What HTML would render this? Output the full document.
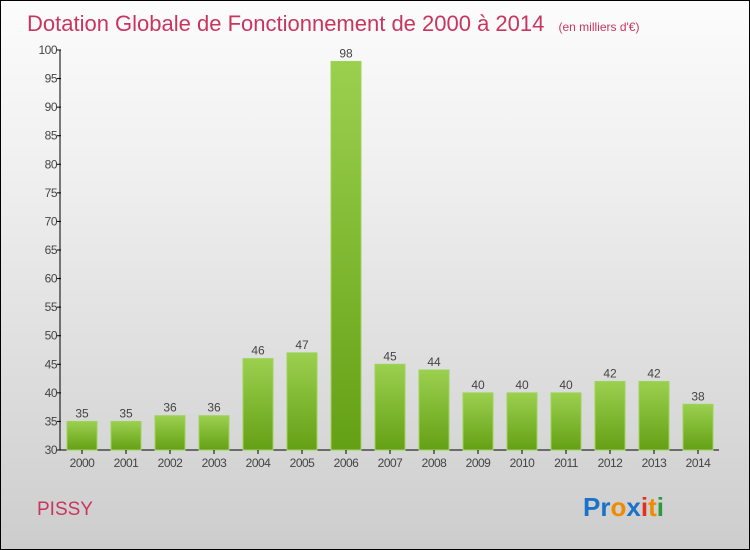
<!DOCTYPE html>
<html><head><meta charset="utf-8"><style>
body{margin:0}
#c{position:relative;width:748px;height:548px;border:1px solid #000;background:linear-gradient(#fcfcfc,#f0f0f0 30%,#cdcdcd);font-family:"Liberation Sans",sans-serif;overflow:hidden}
</style></head><body>
<div id="c">
<svg width="748" height="548">
<defs><linearGradient id="g" x1="0" y1="0" x2="0" y2="1"><stop offset="0" stop-color="#9bd04f"/><stop offset="1" stop-color="#64a015"/></linearGradient></defs>
<text x="26" y="30" font-size="22" fill="#c8365f">Dotation Globale de Fonctionnement de 2000 à 2014 <tspan font-size="12" dx="8">(en milliers d'€)</tspan></text>
<g id="plot"></g>
<text x="36" y="514" font-size="19" fill="#c8365f">PISSY</text>
<text x="582" y="515" font-size="26" font-weight="bold"><tspan fill="#1a73c8">Pr</tspan><tspan fill="#f08a00">o</tspan><tspan fill="#1a73c8">x</tspan><tspan fill="#e03020">i</tspan><tspan fill="#f08a00">t</tspan><tspan fill="#2a9a3a">i</tspan></text>
</svg></div>
<script>
const years=["2000","2001","2002","2003","2004","2005","2006","2007","2008","2009","2010","2011","2012","2013","2014"];
const values=[35,35,36,36,46,47,98,45,44,40,40,40,42,42,38];
const yTicks=[30,35,40,45,50,55,60,65,70,75,80,85,90,95,100];
const ns="http://www.w3.org/2000/svg",g=document.getElementById('plot');
const y=v=>449-(v-30)*400/70, x=i=>81+i*44;
function mk(t,a,txt){const e=document.createElementNS(ns,t);for(const k in a)e.setAttribute(k,a[k]);if(txt!=null)e.textContent=txt;g.appendChild(e);return e;}
let ax=mk('path',{d:'M59,'+y(100)+'V449H718',stroke:'#000',fill:'none'});

yTicks.forEach(t=>{let l=mk('line',{x1:56,x2:60,y1:y(t),y2:y(t),stroke:'#000'});

let s=mk('text',{x:56,y:y(t)+4,'font-size':12,fill:'#444','text-anchor':'end','letter-spacing':'-0.5'},t);
});
years.forEach((yr,i)=>{let r=mk('rect',{x:x(i)-15,y:y(values[i]),width:30,height:449-y(values[i]),fill:'url(#g)',stroke:'#9dd45a','stroke-width':1});

let v=mk('text',{x:x(i),y:y(values[i])-4,'font-size':12,fill:'#444','text-anchor':'middle'},values[i]);

let tk=mk('line',{x1:x(i),x2:x(i),y1:449,y2:453,stroke:'#000'});

let l=mk('text',{x:x(i),y:466,'font-size':12,fill:'#444','text-anchor':'middle','letter-spacing':'-0.5'},yr);
});
</script>
</body></html>
